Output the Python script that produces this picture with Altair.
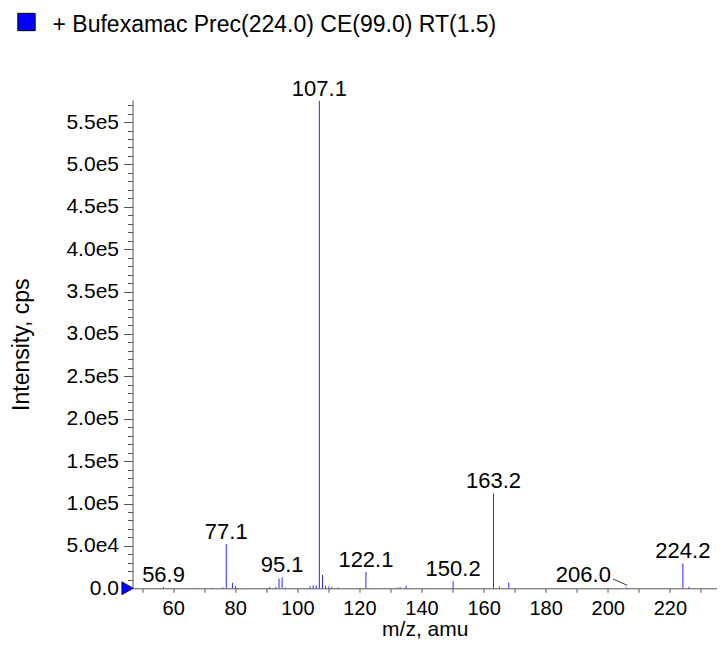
import altair as alt
import pandas as pd

# ---- data ----
peak_mz = [56.9, 67.0, 68.1, 72.5, 76.0, 77.1, 79.1, 80.1, 91.1, 93.1, 94.1, 95.1, 96.1,
           104.1, 105.1, 106.1, 107.1, 108.1, 109.1, 110.1, 111.1, 113.1,
           122.1, 132.1, 133.1, 135.1, 150.2, 163.2, 165.1, 168.1, 206.0, 224.2, 226.1]
peak_int = [1500, 500, 500, 600, 1000, 52200, 6500, 2500, 1500, 1500, 11500, 13000, 1000,
            2500, 3500, 3500, 575000, 15700, 3000, 2000, 1500, 1000,
            19200, 1000, 1500, 2800, 8500, 112000, 2000, 6800, 1000, 29500, 1500]

label_text = ["56.9", "77.1", "95.1", "107.1", "122.1", "150.2", "163.2", "224.2"]
label_mz = [56.9, 77.1, 95.1, 107.1, 122.1, 150.2, 163.2, 224.2]
label_int = [1500, 52200, 13000, 575000, 19200, 8500, 112000, 29500]

shifted_text = ["206.0"]
shifted_mz = [206.0]
shifted_int = [1000]

leader_mz = [201.7]
leader_int = [11000]
leader_mz2 = [206.3]
leader_int2 = [3500]

legend_text = ["+ Bufexamac Prec(224.0) CE(99.0) RT(1.5)"]

x_domain = [46.9, 235.2]
y_domain = [0, 576000]

FONT = "Liberation Sans"
BLUE = "#2a2aff"

peaks = pd.DataFrame({"mz": peak_mz, "intensity": peak_int})
labels = pd.DataFrame({"mz": label_mz, "intensity": label_int, "text": label_text})
shifted = pd.DataFrame({"mz": shifted_mz, "intensity": shifted_int, "text": shifted_text})
leader = pd.DataFrame({"mz": leader_mz, "intensity": leader_int,
                       "mz2": leader_mz2, "intensity2": leader_int2})
marker = pd.DataFrame({"mz": [x_domain[0]], "intensity": [0]})
legend = pd.DataFrame({"text": legend_text})

xs = alt.Scale(domain=x_domain, nice=False, zero=False)
ys = alt.Scale(domain=y_domain, nice=False, zero=False)

x_axis = alt.Axis(
    title="m/z, amu",
    values=list(range(50, 240, 10)),
    tickCount=200,
    labelExpr="datum.value % 20 === 0 ? format(datum.value, 'd') : ''",
    labelOverlap=False,
    tickSize=4,
    labelPadding=6,
    labelFontSize=20,
    grid=False,
    titleBaseline="middle",
    titleY=41,
    titleFontSize=21,
)
y_axis = alt.Axis(
    title="Intensity, cps",
    values=list(range(0, 576000, 10000)),
    tickCount=200,
    labelExpr="datum.value % 50000 === 0 ? (datum.value === 0 ? '0.0' : replace(format(datum.value, '.1e'), '+', '')) : ''",
    labelOverlap=False,
    tickSize={"condition": {"test": "datum.value % 50000 === 0", "value": 9}, "value": 5},
    labelPadding=5,
    grid=False,
    titleBaseline="middle",
    titleX=-111,
    titleFontSize=23,
)

X = alt.X("mz:Q", scale=xs, axis=x_axis, title="m/z, amu")
Y = alt.Y("intensity:Q", scale=ys, axis=y_axis, title="Intensity, cps")
Xp = alt.X("mz:Q", scale=xs, title="m/z, amu")
Yp = alt.Y("intensity:Q", scale=ys, title="Intensity, cps")

sticks = alt.Chart(peaks).mark_rule(color=BLUE, strokeWidth=1).encode(
    x=X, y=Y, y2=alt.datum(0)
)

peak_labels = alt.Chart(labels).mark_text(
    font=FONT, fontSize=22, baseline="alphabetic", align="center", dy=-5, color="black"
).encode(x=Xp, y=Yp, text="text:N")

shifted_label = alt.Chart(shifted).mark_text(
    font=FONT, fontSize=22, baseline="alphabetic", align="center", dy=-5, dx=-43, color="black"
).encode(x=Xp, y=Yp, text="text:N")

leader_line = alt.Chart(leader).mark_rule(color="black", strokeWidth=0.8).encode(
    x=Xp, y=Yp, x2="mz2:Q", y2="intensity2:Q"
)

start_marker = alt.Chart(marker).mark_point(
    shape="triangle-right", size=170, filled=True, fill="#0000ff", stroke="#000033",
    strokeWidth=0.8, opacity=1, xOffset=-5
).encode(x=Xp, y=Yp)

legend_box = alt.Chart(legend).mark_square(
    size=300, fill="#0000ff", stroke="black", strokeWidth=1, opacity=1
).encode(x=alt.value(-106), y=alt.value(-78))

legend_label = alt.Chart(legend).mark_text(
    font=FONT, fontSize=23, align="left", baseline="middle", color="black"
).encode(x=alt.value(-80), y=alt.value(-75), text="text:N")

chart = alt.layer(
    sticks, peak_labels, shifted_label, leader_line, start_marker, legend_box, legend_label
).properties(
    width=584.5,
    height=488.3,
    autosize=alt.AutoSizeParams(type="none"),
    padding={"left": 124.5, "top": 92, "right": 0, "bottom": 51.7},
).configure_view(
    stroke=None
).configure_axis(
    labelFont=FONT, labelFontSize=21, labelColor="black",
    titleFont=FONT, titleFontWeight="normal", titleColor="black",
    domainColor="#555555", tickColor="#555555", domainWidth=1, tickWidth=1,
)

chart.save("out.html", embed_options={"renderer": "svg", "actions": False})
